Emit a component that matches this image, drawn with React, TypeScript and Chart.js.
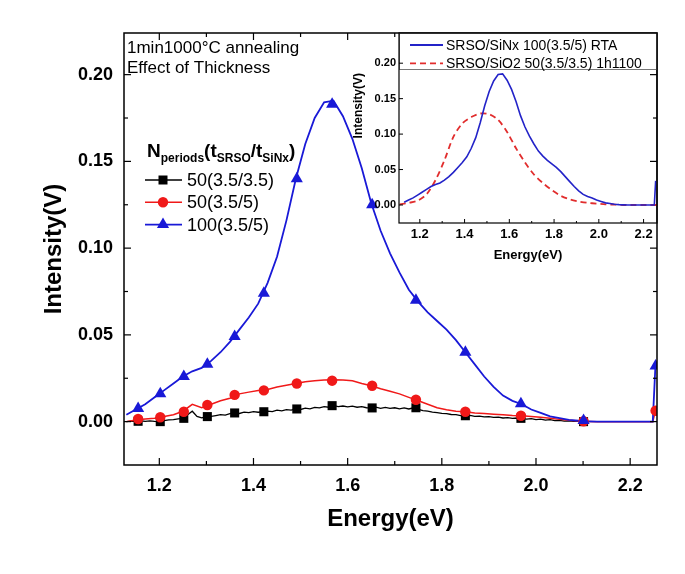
import React, { useEffect, useRef } from 'react';
import { Chart, registerables } from 'chart.js';
Chart.register(...registerables);

// ---------- main chart data ----------
const gridE = [1.13,1.15,1.17,1.19,1.21,1.23,1.25,1.27,1.29,1.31,1.33,1.35,1.37,1.39,1.41,1.43,1.45,1.47,1.49,1.51,1.53,1.55,1.57,1.59,1.61,1.63,1.65,1.67,1.69,1.71,1.73,1.75,1.77,1.79,1.81,1.83,1.85,1.87,1.89,1.91,1.93,1.95,1.97,1.99,2.01,2.03,2.05,2.07,2.09,2.11,2.13,2.15,2.17,2.19,2.21,2.23,2.248,2.254];
const blue100 = [0.004,0.007,0.010,0.014,0.018,0.022,0.026,0.029,0.031,0.035,0.040,0.046,0.053,0.060,0.068,0.080,0.095,0.116,0.140,0.160,0.175,0.184,0.185,0.176,0.163,0.146,0.126,0.110,0.097,0.086,0.076,0.069,0.063,0.058,0.053,0.047,0.040,0.033,0.026,0.020,0.015,0.012,0.010,0.007,0.005,0.003,0.002,0.001,0.0005,0.0002,0,0,0,0,0,0,0,0.034];
const red50 = [0.000,0.001,0.0015,0.002,0.003,0.004,0.006,0.010,0.008,0.010,0.012,0.0135,0.016,0.017,0.018,0.0185,0.020,0.021,0.022,0.023,0.0235,0.024,0.0242,0.024,0.0235,0.022,0.0207,0.019,0.0175,0.016,0.014,0.012,0.010,0.008,0.0068,0.006,0.0057,0.005,0.0047,0.0043,0.004,0.0036,0.0034,0.003,0.0025,0.002,0.0013,0.0008,0.0003,0.0001,0,0,0,0,0,0,0,0.0065];
const blackE = [1.13,1.14,1.15,1.16,1.17,1.18,1.19,1.20,1.21,1.22,1.23,1.24,1.25,1.26,1.27,1.28,1.29,1.30,1.31,1.32,1.33,1.34,1.35,1.36,1.37,1.38,1.39,1.40,1.41,1.42,1.43,1.44,1.45,1.46,1.47,1.48,1.49,1.50,1.51,1.52,1.53,1.54,1.55,1.56,1.57,1.58,1.59,1.60,1.61,1.62,1.63,1.64,1.65,1.66,1.67,1.68,1.69,1.70,1.71,1.72,1.73,1.74,1.75,1.76,1.77,1.78,1.79,1.80,1.81,1.82,1.83,1.84,1.85,1.86,1.87,1.88,1.89,1.90,1.91,1.92,1.93,1.94,1.95,1.96,1.97,1.98,1.99,2.00,2.01,2.02,2.03,2.04,2.05,2.06,2.07,2.08,2.09,2.10];
const black50 = [0.000,0.0003,0.0002,0.0005,0.0002,0.0004,0.0001,0.0000,0.0006,0.0010,0.0012,0.0016,0.0019,0.0040,0.0060,0.0030,0.0022,0.0028,0.0030,0.0035,0.0040,0.0038,0.0046,0.0050,0.0047,0.0055,0.0052,0.0058,0.0054,0.0057,0.0061,0.0058,0.0066,0.0062,0.0069,0.0066,0.0073,0.0070,0.0078,0.0074,0.0082,0.0079,0.0086,0.0083,0.0092,0.0087,0.0090,0.0085,0.0089,0.0083,0.0086,0.0080,0.0079,0.0084,0.0077,0.0082,0.0076,0.0080,0.0074,0.0079,0.0073,0.0080,0.0070,0.0064,0.0060,0.0055,0.0052,0.0048,0.0046,0.0041,0.0040,0.0035,0.0034,0.0036,0.0030,0.0032,0.0027,0.0029,0.0024,0.0026,0.0021,0.0023,0.0019,0.0021,0.0019,0.0015,0.0017,0.0012,0.0014,0.0009,0.0011,0.0006,0.0007,0.0003,0.0004,0.0001,0.0001,0.0000];

const markE = [1.155,1.202,1.252,1.302,1.36,1.422,1.492,1.567,1.652,1.745,1.85,1.968,2.101,2.254];
const blueMark = [0.0075,0.016,0.026,0.033,0.049,0.074,0.14,0.183,0.125,0.070,0.040,0.0103,0.0006,0.032];
const redMark = [0.0015,0.0025,0.0057,0.0096,0.0154,0.018,0.022,0.0236,0.0207,0.0126,0.0057,0.0034,0.0002,0.0063];
const blackMark = [0.0002,0.0,0.0019,0.0029,0.005,0.0057,0.0073,0.0092,0.0079,0.008,0.0034,0.0019,0.0];

const xMajor = [1.2,1.4,1.6,1.8,2.0,2.2];
const xMinor = [1.3,1.5,1.7,1.9,2.1];
const yMajor = [0.0,0.05,0.10,0.15,0.20];
const yMinor = [0.025,0.075,0.125,0.175];

const seriesLabels = ['50(3.5/3.5)', '50(3.5/5)', '100(3.5/5)'];
const noteLines = ['1min1000\u00b0C annealing', 'Effect of Thickness'];

// ---------- inset data ----------
const sio2E = [1.11,1.15,1.19,1.23,1.27,1.31,1.35,1.39,1.43,1.47,1.51,1.55,1.59,1.63,1.67,1.71,1.75,1.79,1.83,1.87,1.91,1.95,1.99,2.03,2.07,2.11,2.15,2.19,2.23,2.26];
const sio2V = [0.001,0.003,0.006,0.015,0.035,0.063,0.096,0.115,0.124,0.129,0.128,0.120,0.103,0.080,0.060,0.043,0.031,0.021,0.013,0.008,0.005,0.003,0.002,0.001,0.0005,0,0,0,0,0];
const insetLabels = ['SRSO/SiNx 100(3.5/5) RTA', 'SRSO/SiO2 50(3.5/3.5) 1h1100'];
const insetYTitle = 'Intensity(V)';
const insetXMajor = [1.2,1.4,1.6,1.8,2.0,2.2];
const insetXMinor = [1.3,1.5,1.7,1.9,2.1];
const insetYMajor = [0.0,0.05,0.10,0.15,0.20];

const BLUE = 'rgb(25,25,215)';
const RED = 'rgb(240,25,25)';
const BLACK = '#000';
const INSET_BLUE = 'rgb(35,35,200)';
const INSET_RED = 'rgb(225,45,45)';
const FONT = '"Liberation Sans", Arial, sans-serif';

const pts = (xs: number[], ys: number[]) => ys.map((v, i) => ({ x: xs[i], y: v }));

function drawMarker(ctx: CanvasRenderingContext2D, kind: string, x: number, y: number, color: string) {
  ctx.fillStyle = color;
  ctx.beginPath();
  if (kind === 'rect') {
    ctx.rect(x - 4.5, y - 4.5, 9, 9);
  } else if (kind === 'circle') {
    ctx.arc(x, y, 5.2, 0, Math.PI * 2);
  } else {
    ctx.moveTo(x, y - 7);
    ctx.lineTo(x + 6.1, y + 3.5);
    ctx.lineTo(x - 6.1, y + 3.5);
    ctx.closePath();
  }
  ctx.fill();
}

const mainDecor = {
  id: 'mainDecor',
  afterDraw(chart: any) {
    const { ctx, chartArea: a, scales } = chart;
    const xs = scales.x, ys = scales.y;
    ctx.save();
    ctx.strokeStyle = '#000';
    ctx.lineWidth = 1.5;
    ctx.strokeRect(a.left, a.top, a.right - a.left, a.bottom - a.top);
    ctx.lineWidth = 1.2;
    const seg = (x1: number, y1: number, x2: number, y2: number) => {
      ctx.beginPath(); ctx.moveTo(x1, y1); ctx.lineTo(x2, y2); ctx.stroke();
    };
    xMajor.forEach(v => { const p = xs.getPixelForValue(v); seg(p, a.bottom, p, a.bottom - 7); seg(p, a.top, p, a.top + 7); });
    xMinor.forEach(v => { const p = xs.getPixelForValue(v); seg(p, a.bottom, p, a.bottom - 4); seg(p, a.top, p, a.top + 4); });
    yMajor.forEach(v => { const p = ys.getPixelForValue(v); seg(a.left, p, a.left + 7, p); seg(a.right, p, a.right - 7, p); });
    yMinor.forEach(v => { const p = ys.getPixelForValue(v); seg(a.left, p, a.left + 4, p); seg(a.right, p, a.right - 4, p); });

    // annotation text
    ctx.fillStyle = '#000';
    ctx.textAlign = 'left';
    ctx.textBaseline = 'middle';
    ctx.font = '17px ' + FONT;
    ctx.fillText(noteLines[0], a.left + 3, a.top + 15);
    ctx.fillText(noteLines[1], a.left + 3, a.top + 35);

    // legend header N_periods(t_SRSO/t_SiNx)
    const parts: [string, boolean][] = [['N', false], ['periods', true], ['(t', false], ['SRSO', true], ['/t', false], ['SiNx', true], [')', false]];
    let hx = a.left + 23;
    const hy = a.top + 124;
    ctx.textBaseline = 'alphabetic';
    parts.forEach(([t, sub]) => {
      ctx.font = (sub ? 'bold 12px ' : 'bold 19px ') + FONT;
      ctx.fillText(t, hx, sub ? hy + 5 : hy);
      hx += ctx.measureText(t).width;
    });

    // legend entries
    const kinds = ['rect', 'circle', 'triangle'];
    const colors = [BLACK, RED, BLUE];
    ctx.textBaseline = 'middle';
    ctx.font = '18px ' + FONT;
    for (let i = 0; i < 3; i++) {
      const ly = a.top + 147 + i * 22.3;
      ctx.strokeStyle = colors[i];
      ctx.lineWidth = 1.6;
      seg(a.left + 21, ly, a.left + 58, ly);
      drawMarker(ctx, kinds[i], a.left + 39, ly, colors[i]);
      ctx.fillStyle = '#000';
      ctx.fillText(seriesLabels[i], a.left + 63, ly + 1);
    }
    ctx.restore();
  },
};

const insetDecor = {
  id: 'insetDecor',
  afterDatasetsDraw(chart: any) {
    const { ctx, chartArea: a } = chart;
    ctx.save();
    ctx.fillStyle = '#fff';
    ctx.fillRect(a.left, a.top, a.right - a.left, 36);
    ctx.strokeStyle = '#777';
    ctx.lineWidth = 1;
    ctx.strokeRect(a.left + 0.5, a.top + 0.5, a.right - a.left - 1, 36);
    ctx.font = '14px ' + FONT;
    ctx.textAlign = 'left';
    ctx.textBaseline = 'middle';
    const rows = [{ c: INSET_BLUE, d: [] as number[] }, { c: INSET_RED, d: [6, 4] }];
    rows.forEach((r, i) => {
      const ly = a.top + 12 + i * 18.3;
      ctx.strokeStyle = r.c;
      ctx.lineWidth = 1.8;
      ctx.setLineDash(r.d);
      ctx.beginPath(); ctx.moveTo(a.left + 11, ly); ctx.lineTo(a.left + 44, ly); ctx.stroke();
      ctx.setLineDash([]);
      ctx.fillStyle = '#000';
      ctx.fillText(insetLabels[i], a.left + 47, ly + 1);
    });
    ctx.restore();
  },
  afterDraw(chart: any) {
    const { ctx, chartArea: a, scales } = chart;
    const xs = scales.x, ys = scales.y;
    ctx.save();
    ctx.strokeStyle = '#000';
    ctx.lineWidth = 1.2;
    ctx.strokeRect(a.left, a.top, a.right - a.left, a.bottom - a.top);
    const seg = (x1: number, y1: number, x2: number, y2: number) => {
      ctx.beginPath(); ctx.moveTo(x1, y1); ctx.lineTo(x2, y2); ctx.stroke();
    };
    ctx.lineWidth = 1;
    insetXMajor.forEach(v => { const p = xs.getPixelForValue(v); seg(p, a.bottom, p, a.bottom - 4); });
    insetXMinor.forEach(v => { const p = xs.getPixelForValue(v); seg(p, a.bottom, p, a.bottom - 2); });
    insetYMajor.forEach(v => { const p = ys.getPixelForValue(v); seg(a.left, p, a.left + 4, p); });
    // y-axis title of the inset (placed higher, as in the original)
    ctx.translate(a.left - 40, ys.getPixelForValue(0.14));
    ctx.rotate(-Math.PI / 2);
    ctx.font = 'bold 12px ' + FONT;
    ctx.fillStyle = '#000';
    ctx.textAlign = 'center';
    ctx.textBaseline = 'middle';
    ctx.fillText(insetYTitle, 0, 0);
    ctx.restore();
  },
};

export default function App() {
  const mainRef = useRef<HTMLCanvasElement>(null);
  const insetRef = useRef<HTMLCanvasElement>(null);

  useEffect(() => {
    const lineDs = (label: string, data: any[], color: string, width: number) => ({
      label, data, borderColor: color, backgroundColor: color, borderWidth: width,
      pointRadius: 0, showLine: true, fill: false, tension: 0,
    });
    const markDs = (label: string, data: any[], color: string, style: string, r: number) => ({
      label, data, borderColor: color, backgroundColor: color, showLine: false,
      pointStyle: style, pointRadius: r, pointBorderWidth: 0,
    });
    const main = new Chart(mainRef.current!, {
      type: 'line',
      data: {
        datasets: [
          markDs('100 markers', pts(markE, blueMark), BLUE, 'triangle', 7),
          markDs('50(3.5/5) markers', pts(markE, redMark), RED, 'circle', 5.2),
          markDs('50(3.5/3.5) markers', pts(markE, blackMark), BLACK, 'rect', 6.4),
          lineDs(seriesLabels[2], pts(gridE, blue100), BLUE, 1.8),
          lineDs(seriesLabels[1], pts(gridE, red50), RED, 1.5),
          lineDs(seriesLabels[0], pts(blackE, black50), BLACK, 1.3),
        ] as any,
      },
      options: {
        animation: false,
        responsive: false,
        devicePixelRatio: 1,
        layout: { padding: { top: 33, right: 28, left: 0, bottom: 0 } },
        plugins: { legend: { display: false }, tooltip: { enabled: false } },
        scales: {
          x: {
            type: 'linear', min: 1.125, max: 2.257,
            afterFit: (s: any) => { s.height = 109; },
            afterBuildTicks: (s: any) => { s.ticks = xMajor.map(v => ({ value: v })); },
            grid: { display: false, drawTicks: false },
            border: { display: false },
            ticks: { padding: 10, color: '#000', font: { family: FONT, size: 18, weight: 'bold' }, callback: (v: any) => Number(v).toFixed(1) },
            title: { display: true, text: 'Energy(eV)', color: '#000', font: { family: FONT, size: 24, weight: 'bold' }, padding: { top: 0, bottom: 40 } },
          },
          y: {
            type: 'linear', min: -0.025, max: 0.224,
            afterFit: (s: any) => { s.width = 124; },
            afterBuildTicks: (s: any) => { s.ticks = yMajor.map(v => ({ value: v })); },
            grid: { display: false, drawTicks: false },
            border: { display: false },
            ticks: { padding: 11, color: '#000', font: { family: FONT, size: 18, weight: 'bold' }, callback: (v: any) => Number(v).toFixed(2) },
            title: { display: true, text: 'Intensity(V)', color: '#000', font: { family: FONT, size: 24, weight: 'bold' }, padding: { top: 40, bottom: 0 } },
          },
        },
      } as any,
      plugins: [mainDecor],
    });

    const inset = new Chart(insetRef.current!, {
      type: 'line',
      data: {
        datasets: [
          { label: insetLabels[0], data: pts(gridE, blue100), borderColor: INSET_BLUE, borderWidth: 1.6, pointRadius: 0, fill: false, tension: 0 },
          { label: insetLabels[1], data: pts(sio2E, sio2V), borderColor: INSET_RED, borderWidth: 1.8, borderDash: [6, 4], pointRadius: 0, fill: false, tension: 0.3 },
        ] as any,
      },
      options: {
        animation: false,
        responsive: false,
        devicePixelRatio: 1,
        layout: { padding: { top: 13, right: 13, left: 0, bottom: 0 } },
        plugins: { legend: { display: false }, tooltip: { enabled: false } },
        scales: {
          x: {
            type: 'linear', min: 1.107, max: 2.26,
            afterFit: (s: any) => { s.height = 47; },
            afterBuildTicks: (s: any) => { s.ticks = insetXMajor.map(v => ({ value: v })); },
            grid: { display: false, drawTicks: false },
            border: { display: false },
            ticks: { padding: 4, color: '#000', font: { family: FONT, size: 13, weight: 'bold' }, callback: (v: any) => Number(v).toFixed(1) },
            title: { display: true, text: 'Energy(eV)', color: '#000', font: { family: FONT, size: 13, weight: 'bold' }, padding: { top: 0, bottom: 7 } },
          },
          y: {
            type: 'linear', min: -0.0254, max: 0.2426,
            afterFit: (s: any) => { s.width = 69; },
            afterBuildTicks: (s: any) => { s.ticks = insetYMajor.map(v => ({ value: v })); },
            grid: { display: false, drawTicks: false },
            border: { display: false },
            ticks: { padding: 3, color: '#000', font: { family: FONT, size: 11, weight: 'bold' }, callback: (v: any) => Number(v).toFixed(2) },
            title: { display: false },
          },
        },
      } as any,
      plugins: [insetDecor],
    });

    return () => { main.destroy(); inset.destroy(); };
  }, []);

  return (
    <div style={{ position: 'absolute', left: 0, top: 0, width: 685, height: 574, background: '#fff' }}>
      <canvas ref={mainRef} width={685} height={574} style={{ position: 'absolute', left: 0, top: 0, display: 'block' }} />
      <canvas ref={insetRef} width={340} height={250} style={{ position: 'absolute', left: 330, top: 20, display: 'block' }} />
    </div>
  );
}
